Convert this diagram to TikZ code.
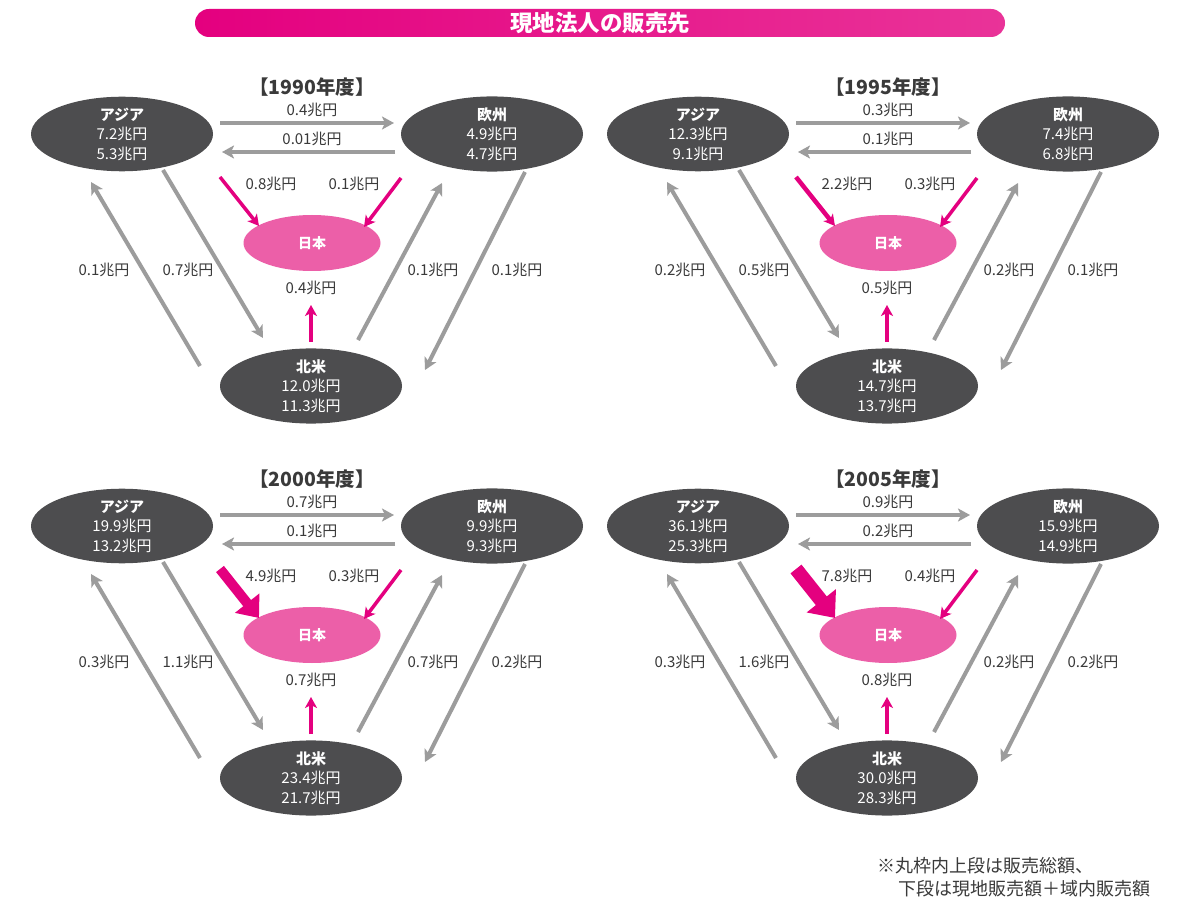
\documentclass[tikz,border=0pt]{standalone}
\usepackage{fontspec}
\setmainfont{Noto Sans CJK JP}
\usetikzlibrary{arrows.meta,shapes.geometric}
\definecolor{dk}{HTML}{4D4D4F}
\definecolor{gr}{HTML}{9C9C9C}
\definecolor{pk}{HTML}{E4007F}
\definecolor{jp}{HTML}{EC5FA8}
\definecolor{tx}{HTML}{3A3A3A}
\tikzset{
 region/.style={ellipse, fill=dk, minimum width=182pt, minimum height=72pt, inner sep=0pt, text=white, align=center, font=\fontsize{15}{19.5}\selectfont},
 japan/.style={ellipse, fill=jp, minimum width=137pt, minimum height=56pt, inner sep=0pt, text=white, font=\bfseries\fontsize{14}{16}\selectfont},
 lbl/.style={text=tx, font=\fontsize{15}{17}\selectfont, inner sep=0pt},
 garrow/.style={draw=gr, line width=4pt, -{Stealth[length=12pt,width=13pt,inset=3pt]}},
 parrow/.style={draw=pk, line width=3.5pt, -{Stealth[length=11pt,width=12pt,inset=3pt]}},
 ajs/.style={parrow},
 yeartitle/.style={text=tx, font=\bfseries\fontsize{19.5}{21}\selectfont, inner sep=0pt},
 titlebar/.style={minimum width=810pt, minimum height=28pt, rounded corners=14pt, left color=pk, right color=pk!80!white, text=white, font=\bfseries\fontsize{22.5}{24}\selectfont, inner sep=0pt},
 note/.style={text=tx, font=\fontsize{18}{20}\selectfont, inner sep=0pt, anchor=west},
}
% \panel{prefix}{xshift}{yshift}{year}
\newcommand\panel[4]{%
\begin{scope}[shift={(#2,#3)}]
\node[yeartitle] (#1t) at (312,87) {【#4年度】};
\node[region] (#1as) at (122,134) {\textbf{アジア}\\\Aa 兆円\\\Ab 兆円};
\node[region] (#1eu) at (492,134) {\textbf{欧州}\\\Ea 兆円\\\Eb 兆円};
\node[region] (#1na) at (311,386) {\textbf{北米}\\\Na 兆円\\\Nb 兆円};
\node[japan] (#1jp) at (312,243) {日本};
% horizontal
\coordinate (#1ae0) at (220,123); \coordinate (#1ae1) at (394,123);
\draw[garrow] (#1ae0) -- (#1ae1);
\node[lbl] (#1lae) at (312,110) {\AE 兆円};
\coordinate (#1ea0) at (395,152); \coordinate (#1ea1) at (222,152);
\draw[garrow] (#1ea0) -- (#1ea1);
\node[lbl] (#1lea) at (312,139) {\EA 兆円};
% to Japan
\coordinate (#1aj0) at (220,177); \coordinate (#1aj1) at (259,226);
\draw[ajs] (#1aj0) -- (#1aj1);
\node[lbl] (#1laj) at (271,184) {\AJ 兆円};
\coordinate (#1ej0) at (401,178); \coordinate (#1ej1) at (364,227);
\draw[parrow] (#1ej0) -- (#1ej1);
\node[lbl] (#1lej) at (354,184) {\EJ 兆円};
\coordinate (#1nj0) at (311,342); \coordinate (#1nj1) at (311,305);
\draw[parrow] (#1nj0) -- (#1nj1);
\node[lbl] (#1lnj) at (311,288) {\NJ 兆円};
% diagonals
\coordinate (#1na0) at (200,366); \coordinate (#1na1) at (91,182);
\draw[garrow] (#1na0) -- (#1na1);
\node[lbl] (#1lna) at (104,270) {\NA 兆円};
\coordinate (#1an0) at (163,170); \coordinate (#1an1) at (263,338);
\draw[garrow] (#1an0) -- (#1an1);
\node[lbl] (#1lan) at (188,270) {\AN 兆円};
\coordinate (#1ne0) at (358,340); \coordinate (#1ne1) at (442,183);
\draw[garrow] (#1ne0) -- (#1ne1);
\node[lbl] (#1lne) at (433,270) {\NE 兆円};
\coordinate (#1en0) at (525,172); \coordinate (#1en1) at (425,370);
\draw[garrow] (#1en0) -- (#1en1);
\node[lbl] (#1len) at (517,270) {\EN 兆円};
\end{scope}}
\newcommand\setvals[9]{\def\Aa{#1}\def\Ab{#2}\def\Ea{#3}\def\Eb{#4}\def\Na{#5}\def\Nb{#6}\def\AE{#7}\def\EA{#8}\def\AJ{#9}}
\newcommand\setmore[6]{\def\EJ{#1}\def\NJ{#2}\def\NA{#3}\def\AN{#4}\def\NE{#5}\def\EN{#6}}
\begin{document}
\begin{tikzpicture}[x=1pt,y=-1pt]
\fill[white] (0,0) rectangle (1179,901);
\useasboundingbox (0,0) rectangle (1179,901);
\node[titlebar] (bar) at (600,23) {現地法人の販売先};
\setvals{7.2}{5.3}{4.9}{4.7}{12.0}{11.3}{0.4}{0.01}{0.8}\setmore{0.1}{0.4}{0.1}{0.7}{0.1}{0.1}
\tikzset{ajs/.style={parrow}}
\panel{p1}{0}{0}{1990}
\setvals{12.3}{9.1}{7.4}{6.8}{14.7}{13.7}{0.3}{0.1}{2.2}\setmore{0.3}{0.5}{0.2}{0.5}{0.2}{0.1}
\tikzset{ajs/.style={parrow,line width=4.5pt}}
\panel{p2}{576}{0}{1995}
\setvals{19.9}{13.2}{9.9}{9.3}{23.4}{21.7}{0.7}{0.1}{4.9}\setmore{0.3}{0.7}{0.3}{1.1}{0.7}{0.2}
\tikzset{ajs/.style={draw=pk,line width=10pt,-{Triangle[length=19pt,width=30pt]}}}
\panel{p3}{0}{392}{2000}
\setvals{36.1}{25.3}{15.9}{14.9}{30.0}{28.3}{0.9}{0.2}{7.8}\setmore{0.4}{0.8}{0.3}{1.6}{0.2}{0.2}
\tikzset{ajs/.style={draw=pk,line width=14pt,-{Triangle[length=22pt,width=36pt]}}}
\panel{p4}{576}{392}{2005}
\node[note] (n1) at (877,866) {※丸枠内上段は販売総額、};
\node[note] (n2) at (898,889) {下段は現地販売額＋域内販売額};
\end{tikzpicture}
\end{document}
